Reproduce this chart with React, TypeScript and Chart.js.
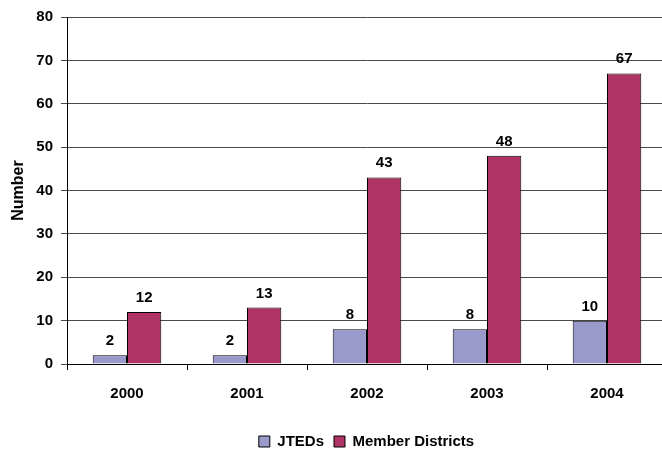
import { useEffect, useRef } from "react";
import { Chart, registerables } from "chart.js";

Chart.register(...registerables);

// Counts per school year
const years = ["2000", "2001", "2002", "2003", "2004"];
const jteds = [2, 2, 8, 8, 10];
const memberDistricts = [12, 13, 43, 48, 67];
const yMin = 0;
const yMax = 80;
const yStep = 10;

const FONT = '"Liberation Sans", Arial, sans-serif';
const PLOT_BOTTOM = 364;
const LEGEND_TOP = 424;

// Prints each bar's value just above its top edge
const valueLabels = {
  id: "valueLabels",
  afterDatasetsDraw(chart: any) {
    const ctx = chart.ctx;
    ctx.save();
    ctx.font = `bold 15px ${FONT}`;
    ctx.fillStyle = "#000";
    ctx.textAlign = "center";
    ctx.textBaseline = "alphabetic";
    chart.data.datasets.forEach((ds: any, i: number) => {
      const meta = chart.getDatasetMeta(i);
      meta.data.forEach((bar: any, j: number) => {
        ctx.fillText(String(ds.data[j]), bar.x, bar.y - 10);
      });
    });
    ctx.restore();
  },
};

// Moves the legend under the middle of the plot area
const legendPlacement = {
  id: "legendPlacement",
  afterUpdate(chart: any) {
    const lg = chart.legend;
    if (!lg) return;
    const dx = 33;
    const h = lg.height;
    lg.left += dx;
    lg.right += dx;
    lg.top = LEGEND_TOP;
    lg.bottom = LEGEND_TOP + h;
    lg.adjustHitBoxes();
  },
};

export default function App() {
  const ref = useRef<HTMLCanvasElement | null>(null);

  useEffect(() => {
    if (!ref.current) return;
    const chart = new Chart(ref.current, {
      type: "bar",
      data: {
        labels: years,
        datasets: [
          {
            label: "JTEDs",
            data: jteds,
            backgroundColor: "#9999CC",
            borderColor: "#000",
            borderWidth: 1,
            categoryPercentage: 2 / 3.5,
            barPercentage: 1,
          },
          {
            label: "Member Districts",
            data: memberDistricts,
            backgroundColor: "#B03366",
            borderColor: "#000",
            borderWidth: 1,
            categoryPercentage: 2 / 3.5,
            barPercentage: 1,
          },
        ],
      },
      options: {
        responsive: false,
        animation: false,
        layout: { padding: { top: 15, right: 1, left: 0, bottom: 0 } },
        scales: {
          x: {
            afterFit(scale: any) {
              const lgH = scale.chart.legend ? scale.chart.legend.height : 0;
              scale.height = scale.chart.height - PLOT_BOTTOM - lgH;
            },
            grid: {
              display: true,
              drawOnChartArea: false,
              drawTicks: true,
              tickLength: 6,
              color: "#000",
              offset: true,
            },
            border: { display: true, color: "#000" },
            ticks: {
              color: "#000",
              padding: 15,
              font: { family: FONT, size: 15, weight: "bold" },
            },
          },
          y: {
            min: yMin,
            max: yMax,
            afterFit(scale: any) {
              scale.width = 67;
            },
            grid: {
              color: "#4a4a4a",
              drawTicks: true,
              tickLength: 6,
            },
            border: { display: true, color: "#000" },
            ticks: {
              stepSize: yStep,
              color: "#000",
              padding: 8,
              font: { family: FONT, size: 15, weight: "bold" },
            },
            title: {
              display: true,
              text: "Number",
              color: "#000",
              padding: { top: 9, bottom: 0 },
              font: { family: FONT, size: 16, weight: "bold" },
            },
          },
        },
        plugins: {
          tooltip: { enabled: false },
          legend: {
            position: "bottom",
            labels: {
              color: "#000",
              boxWidth: 11,
              boxHeight: 11,
              padding: 10,
              font: { family: FONT, size: 15, weight: "bold" },
            },
          },
        },
      },
      plugins: [valueLabels, legendPlacement],
    });
    return () => chart.destroy();
  }, []);

  return (
    <div
      style={{
        position: "fixed",
        left: 0,
        top: 0,
        width: 662,
        height: 451,
        overflow: "hidden",
        background: "#fff",
      }}
    >
      <canvas ref={ref} width={668} height={451} style={{ width: 668, height: 451, display: "block" }} />
    </div>
  );
}
